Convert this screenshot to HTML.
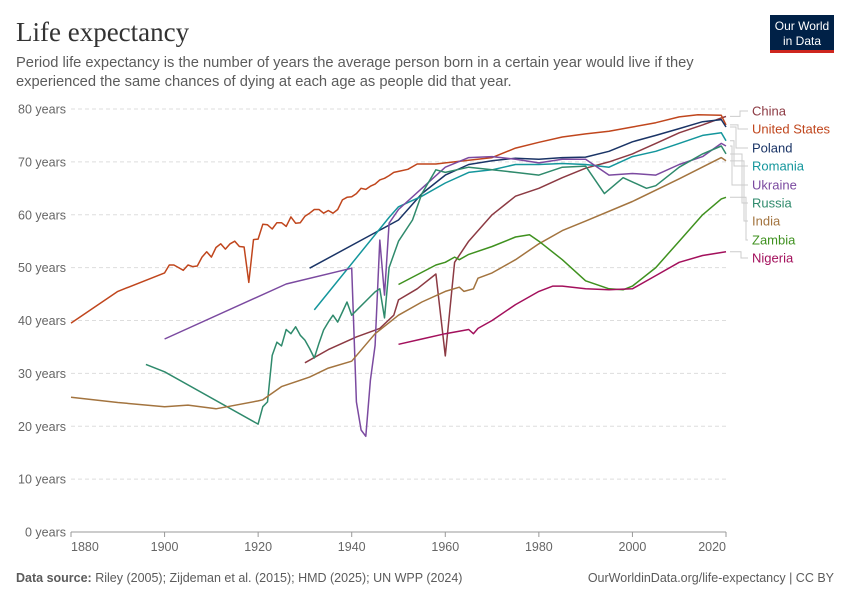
<!DOCTYPE html>
<html><head><meta charset="utf-8"><style>
body{margin:0;background:#fff;width:850px;height:600px;overflow:hidden;font-family:"Liberation Sans",sans-serif}
svg text{font-family:"Liberation Sans",sans-serif}
</style></head><body>
<svg id="c" width="850" height="600">
<text x="16" y="41" font-family="Liberation Serif" font-size="27" fill="#333" style="font-family:'Liberation Serif',serif">Life expectancy</text>
<text x="16" y="67" font-size="14.7" fill="#5b5b5b">Period life expectancy is the number of years the average person born in a certain year would live if they</text>
<text x="16" y="86" font-size="14.7" fill="#5b5b5b">experienced the same chances of dying at each age as people did that year.</text>
<g>
<rect x="770" y="15" width="64" height="35" fill="#002147"/>
<rect x="770" y="50" width="64" height="3" fill="#ce261e"/>
<text x="802" y="30" font-size="12" fill="#fff" text-anchor="middle">Our World</text>
<text x="802" y="45" font-size="12" fill="#fff" text-anchor="middle">in Data</text>
</g>
<g id="axes"></g>
<g id="lines"></g>
<g id="legend"></g>
<text x="16" y="582" font-size="12.5" fill="#5b5b5b"><tspan font-weight="bold">Data source:</tspan> Riley (2005); Zijdeman et al. (2015); HMD (2025); UN WPP (2024)</text>
<text x="834" y="582" font-size="12.5" fill="#5b5b5b" text-anchor="end">OurWorldinData.org/life-expectancy | CC BY</text>
</svg>
<script>
const yTicks=[0,10,20,30,40,50,60,70,80];
const xTicks=[1880,1900,1920,1940,1960,1980,2000,2020];
const countries=["China","United States","Poland","Romania","Ukraine","Russia","India","Zambia","Nigeria"];
const colors=["#8c3a43","#c0461d","#1a3466","#14969c","#7b4aa0","#2f8a6c","#a3743f","#3f911f","#a3105c"];
const chinaYears=[1930,1935,1941,1946,1949,1950,1954,1958,1960,1962,1965,1970,1975,1980,1985,1990,1995,2000,2005,2010,2015,2019,2020];
const chinaVals=[32,34.5,36.9,38.5,41,43.9,46,48.8,33.3,51,55,60,63.5,65,67,68.8,70,71.5,73.5,75.5,77,78.3,78.6];
const usYears=[1880,1890,1900,1901,1902,1903,1904,1905,1906,1907,1908,1909,1910,1911,1912,1913,1914,1915,1916,1917,1918,1919,1920,1921,1922,1923,1924,1925,1926,1927,1928,1929,1930,1931,1932,1933,1934,1935,1936,1937,1938,1939,1940,1941,1942,1943,1944,1945,1946,1947,1948,1949,1950,1952,1954,1956,1958,1960,1965,1970,1975,1980,1985,1990,1995,2000,2005,2010,2014,2019,2020];
const usVals=[39.5,45.5,49,50.5,50.5,50,49.5,50.5,50.2,50.3,52,53,52,53.8,54.5,53.5,54.5,55,54,53.9,47.2,55.3,55.4,58.2,58.1,57.3,58.5,58.5,57.8,59.6,58.4,58.5,59.7,60.3,61,61,60.3,60.8,60.3,61,62.8,63.3,63.4,64,65,64.8,65.4,65.8,66.6,66.9,67.4,68,68.2,68.6,69.6,69.6,69.6,69.8,70.3,70.8,72.6,73.7,74.7,75.3,75.8,76.6,77.4,78.5,78.9,78.8,77];
const polandYears=[1931,1950,1955,1960,1965,1970,1975,1980,1985,1990,1995,2000,2005,2010,2015,2019,2020];
const polandVals=[49.9,59,64,67.5,69.5,70.2,70.7,70.5,70.8,70.9,72,73.8,75,76.3,77.6,78,76.6];
const romaniaYears=[1932,1948,1950,1955,1960,1965,1970,1975,1980,1985,1990,1995,2000,2005,2010,2015,2019,2020];
const romaniaVals=[42,59.5,61.5,63.5,66,68,68.5,69.5,69.5,69.7,69.5,69,71,72,73.5,75,75.5,74];
const ukraineYears=[1900,1926,1940,1941,1942,1943,1944,1945,1946,1947,1948,1950,1955,1960,1965,1970,1975,1980,1985,1990,1995,2000,2005,2010,2015,2019,2020];
const ukraineVals=[36.5,46.9,49.9,24.6,19.3,18.1,28.7,35.3,55.2,44.8,58.4,61,65,69,70.8,71,70.5,69.8,70.5,70.5,67.5,67.8,67.5,69.5,71,73.5,73];
const russiaYears=[1896,1900,1920,1921,1922,1923,1924,1925,1926,1927,1928,1929,1930,1931,1932,1933,1934,1935,1936,1937,1938,1939,1940,1945,1946,1947,1948,1950,1953,1955,1958,1960,1965,1970,1975,1980,1985,1990,1994,1998,2003,2005,2010,2015,2019,2020];
const russiaVals=[31.7,30.3,20.4,23.7,24.6,33.4,35.9,35.2,38.3,37.5,38.8,37.2,36.3,34.7,32.9,35.7,38.2,39.7,41,39.7,41.6,43.5,41,45.4,46,40.5,50,55,59,64,68.5,68,69,68.5,68,67.5,69,69.2,64,67,65,65.5,69,71.5,73,71.5];
const indiaYears=[1880,1890,1900,1905,1911,1920,1921,1925,1931,1935,1940,1945,1950,1955,1960,1963,1964,1966,1967,1970,1975,1980,1985,1990,2000,2010,2019,2020];
const indiaVals=[25.5,24.5,23.7,24,23.3,24.8,25,27.5,29.3,31,32.3,37.5,41,43.5,45.5,46.3,45.5,46,48,49,51.5,54.5,57,58.8,62.5,66.8,70.8,70.2];
const zambiaYears=[1950,1958,1960,1962,1963,1965,1970,1975,1978,1980,1985,1990,1995,1998,2000,2005,2010,2015,2019,2020];
const zambiaVals=[46.8,50.5,51,52,51.5,52.5,54,55.8,56.2,55,51.5,47.5,46,45.8,46.5,50,55,60,63,63.3];
const nigeriaYears=[1950,1955,1960,1965,1966,1967,1970,1975,1980,1983,1985,1990,1995,2000,2005,2010,2015,2020];
const nigeriaVals=[35.5,36.5,37.5,38.3,37.5,38.5,40,43,45.5,46.5,46.5,46,45.8,46,48.5,51,52.3,53];
const labelY=[111,129,148,166,185,203,221,240,258];

const NS="http://www.w3.org/2000/svg";
const X0=71,X1=726,Y0=532,Y1=109;
function xs(v){return X0+(v-1880)/(2020-1880)*(X1-X0);}
function ys(v){return Y0-v/80*(Y0-Y1);}
function mk(t,a,p){const e=document.createElementNS(NS,t);for(const k in a)e.setAttribute(k,a[k]);p.appendChild(e);return e;}
const ax=document.getElementById('axes');
yTicks.forEach(v=>{
  const t=mk('text',{x:66,y:ys(v)+4.5,'font-size':12.5,fill:'#666','text-anchor':'end'},ax);
  t.textContent=v+' years';
  
  
  if(v>0){const g=mk('line',{x1:X0,x2:X1,y1:ys(v),y2:ys(v),stroke:'#ddd','stroke-dasharray':'4,3'},ax);
  
  }
});
const base=mk('line',{x1:X0,x2:X1,y1:Y0,y2:Y0,stroke:'#999'},ax);


xTicks.forEach((v,i)=>{
  const tk=mk('line',{x1:xs(v),x2:xs(v),y1:Y0,y2:Y0+5,stroke:'#999'},ax);
  
  
  const anc=i==0?'start':(i==xTicks.length-1?'end':'middle');
  const t=mk('text',{x:xs(v),y:Y0+19,'font-size':12.5,fill:'#666','text-anchor':anc},ax);
  t.textContent=v;
  
  
});
const series=[[chinaYears,chinaVals],[usYears,usVals],[polandYears,polandVals],[romaniaYears,romaniaVals],[ukraineYears,ukraineVals],[russiaYears,russiaVals],[indiaYears,indiaVals],[zambiaYears,zambiaVals],[nigeriaYears,nigeriaVals]];
const lg=document.getElementById('lines'),leg=document.getElementById('legend');
const elbowX=[740,738,736,734,732,742,744,746,741];
series.forEach((s,i)=>{
  const pts=s[0].map((yr,j)=>xs(yr).toFixed(1)+','+ys(s[1][j]).toFixed(1)).join(' ');
  const p=mk('polyline',{points:pts,fill:'none',stroke:colors[i],'stroke-width':1.5,'stroke-linejoin':'round'},lg);
  
  
  const ey=ys(s[1][s[1].length-1]);
  const c=mk('polyline',{points:`730,${ey} ${elbowX[i]},${ey} ${elbowX[i]},${labelY[i]} 748,${labelY[i]}`,fill:'none',stroke:'#ccc','stroke-width':1},leg);
  
  
  const t=mk('text',{x:752,y:labelY[i]+4.5,'font-size':13,fill:colors[i]},leg);
  t.textContent=countries[i];
  
  
});
</script>
</body></html>
